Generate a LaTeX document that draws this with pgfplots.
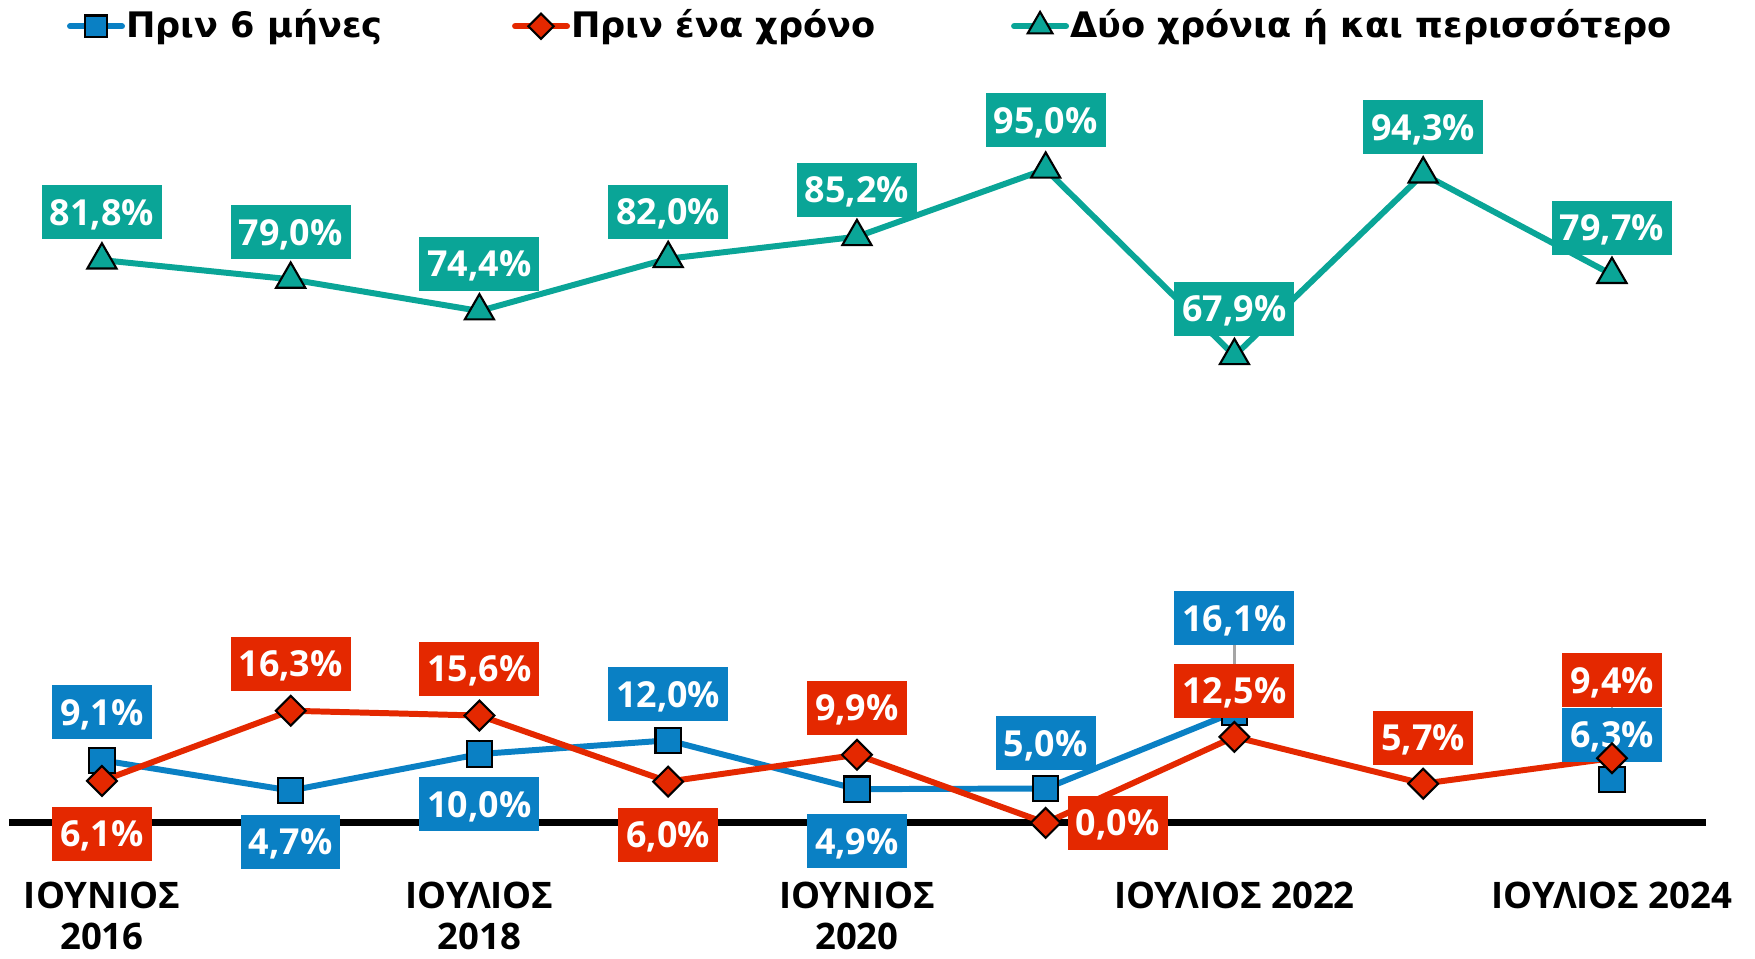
\documentclass[border=0pt]{standalone}
\usepackage{fontspec}
\setmainfont{Open Sans}
\newfontfamily\legfont{DejaVu Sans}
\usepackage{pgfplots}
\usepackage{pgfplotstable}
\pgfplotsset{compat=1.18}
\definecolor{cblue}{RGB}{10,128,196}
\definecolor{cred}{RGB}{228,40,0}
\definecolor{cteal}{RGB}{10,165,151}
\definecolor{cgray}{RGB}{165,165,165}

\pgfplotstableread{
x y dx dy
0 9.1 0 4.8
1 4.7 0 -5.1
2 10.0 0 -5.0
3 12.0 0 4.6
4 4.9 0 -5.2
5 5.0 0 4.5
6 16.1 0 9.4
7 nan 0 0
8 6.3 0 4.5
}\blueT
\pgfplotstableread{
x y dx dy
0 6.1 0 -5.3
1 16.3 0 4.7
2 15.6 0 4.7
3 6.0 0 -5.3
4 9.9 0 4.7
5 0.0 7.2 0
6 12.5 0 4.6
7 5.7 0 4.6
8 9.4 0 7.8
}\redT
\pgfplotstableread{
x y dx dy
0 81.8 0 4.8
1 79.0 0 4.7
2 74.4 0 4.7
3 82.0 0 4.7
4 85.2 0 4.7
5 95.0 0 4.9
6 67.9 0 4.7
7 94.3 0 4.7
8 79.7 0 4.7
}\tealT

\pgfplotsset{
  lbl/.style={
    nodes near coords={\pgfmathprintnumber[fixed,fixed zerofill,precision=1,use comma,assume math mode=true]{\pgfplotspointmeta}\%},
    point meta=explicit,
    visualization depends on={\thisrow{dx}\as\dx},
    visualization depends on={\thisrow{dy}\as\dy},
    every node near coord/.append style={fill=#1, text=white,
      font=\bfseries\fontsize{10.2}{12}\selectfont,
      inner xsep=0.8mm, inner ysep=1.4mm, text height=2.6mm, text depth=0mm,
      anchor=center, xshift=\dx mm, yshift=\dy mm},
  },
}

\begin{document}
\begin{tikzpicture}
\begin{axis}[
  scale only axis, width=175.5mm, height=87.49mm,
  xmin=-0.540, xmax=8.758, ymin=-7.56, ymax=119.6,
  clip=false, axis line style={draw=none}, ytick=\empty,
  xtick={0,2,4,6,8}, major tick length=0pt, tick style={draw=none},
  xticklabels={{ΙΟΥΝΙΟΣ\\2016},{ΙΟΥΛΙΟΣ\\2018},{ΙΟΥΝΙΟΣ\\2020},{ΙΟΥΛΙΟΣ 2022},{ΙΟΥΛΙΟΣ 2024}},
  xticklabel style={align=center, anchor=north, inner sep=0pt, yshift=-0.6mm, font=\bfseries\fontsize{10.4}{11.9}\selectfont},
  unbounded coords=jump,
  legend columns=3,
  legend style={at={(rel axis cs:0.0382,0.970)}, anchor=west, draw=none, fill=none,
    inner sep=0pt, outer sep=0pt, column sep=0pt,
    font=\legfont\bfseries\fontsize{10}{12}\selectfont,
    /tikz/every odd column/.append style={column sep=-0.6mm}},
  legend image code/.code={\draw[mark repeat=2, mark phase=2, line cap=round, #1, /tikz/every mark/.append style={scale=0.85}] plot coordinates {(0.2mm,0mm) (2.8mm,0mm) (5.4mm,0mm)};},
]
\draw[line width=2pt, black] (axis cs:-0.49,0) -- (axis cs:8.5,0);

\addplot[color=cblue, line width=1.7pt, mark=square*, mark size=3.6pt,
  mark options={fill=cblue, draw=black, line width=0.6pt}, lbl=cblue]
  table[x=x, y=y, meta=y] {\blueT};
\addlegendentry{\makebox[37.9mm][l]{Πριν 6 μήνες}}

\draw[cgray, line width=0.6pt] (axis cs:6,16.1) -- (axis cs:6,27.7);

\addplot[color=cred, line width=1.7pt, mark=square*, mark size=3pt,
  mark options={fill=cred, draw=black, line width=0.6pt, rotate=45}, lbl=cred]
  table[x=x, y=y, meta=y] {\redT};
\addlegendentry{\makebox[43.3mm][l]{Πριν ένα χρόνο}}

\draw[cgray, line width=0.6pt] (axis cs:8,10.9) -- (axis cs:8,16.8);

\addplot[color=cteal, line width=1.7pt, mark=triangle*, mark size=4.8pt,
  mark options={fill=cteal, draw=black, line width=0.6pt}, lbl=cteal]
  table[x=x, y=y, meta=y] {\tealT};
\addlegendentry{Δύο χρόνια ή και περισσότερο}
\end{axis}
\pgfresetboundingbox
\path (0,87.49mm) rectangle (175.5mm,-8.31mm);
\end{tikzpicture}
\end{document}
